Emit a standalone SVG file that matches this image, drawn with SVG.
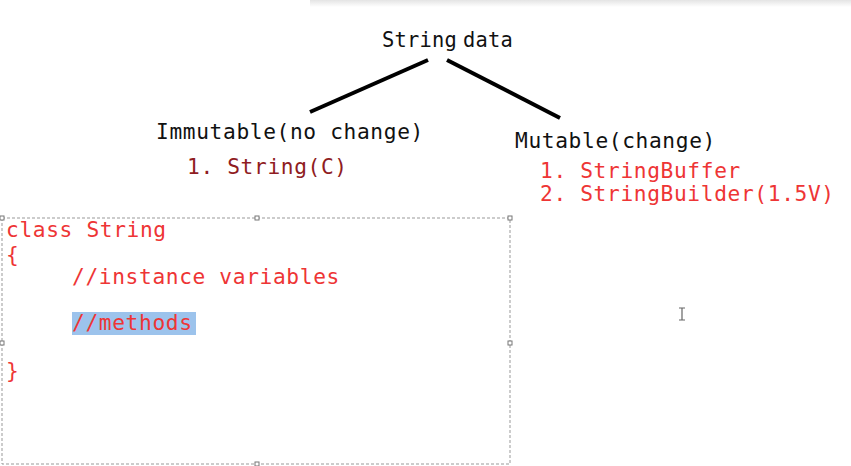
<svg xmlns="http://www.w3.org/2000/svg" width="851" height="466" viewBox="0 0 851 466">
<defs>
<linearGradient id="shade" x1="0" y1="0" x2="0" y2="1">
<stop offset="0" stop-color="#e4e4e4"/>
<stop offset="1" stop-color="#ffffff"/>
</linearGradient>
</defs>
<style>
text{font-family:"DejaVu Sans Mono","Liberation Mono",monospace;font-size:21.2px;letter-spacing:0.64px}
.blk{fill:#111111}
.dred{fill:#8f1c22}
.red{fill:#ee3535}
.conn{stroke:#000;stroke-width:4;stroke-linecap:butt;fill:none}
.handle{fill:#fff;stroke:#777;stroke-width:1}
</style>
<rect width="851" height="466" fill="#fff"/>
<rect x="310" y="0" width="541" height="7" fill="url(#shade)"/>
<g id="connectors">
<line class="conn" x1="310" y1="112" x2="428" y2="60"/>
<line class="conn" x1="447" y1="60" x2="560" y2="118"/>
</g>
<g id="root">
<text class="blk" x="382" y="47" style="font-size:20.4px;letter-spacing:0.2px">String</text>
<text class="blk" x="463" y="47" style="font-size:20.4px;letter-spacing:0.2px">data</text>
</g>
<g id="immutable">
<text class="blk" x="156" y="139">Immutable(no change)</text>
<text class="dred" x="187" y="174">1. String(C)</text>
</g>
<g id="mutable">
<text class="blk" x="515" y="148">Mutable(change)</text>
<text class="red" x="540" y="178">1. StringBuffer</text>
<text class="red" x="540" y="201">2. StringBuilder(1.5V)</text>
</g>
<g id="code">
<rect x="2" y="218" width="508" height="246" fill="none" stroke="#999" stroke-width="1" stroke-dasharray="3,2"/>
<rect class="handle" x="0" y="216" width="4" height="4"/>
<rect class="handle" x="255" y="216" width="4" height="4"/>
<rect class="handle" x="508" y="216" width="4" height="4"/>
<rect class="handle" x="0" y="341" width="4" height="4"/>
<rect class="handle" x="508" y="341" width="4" height="4"/>
<rect class="handle" x="255" y="462" width="4" height="4"/>
<rect x="72" y="312" width="124" height="23" fill="#9cc3ec"/>
<text class="red" x="6" y="237">class String</text>
<text class="red" x="6" y="262">{</text>
<text class="red" x="72" y="284">//instance variables</text>
<text class="red" x="72" y="330">//methods</text>
<text class="red" x="6" y="378">}</text>
</g>
<path d="M679 308h6M682 308v12M679 320h6" stroke="#666" stroke-width="1.2" fill="none"/>
</svg>
